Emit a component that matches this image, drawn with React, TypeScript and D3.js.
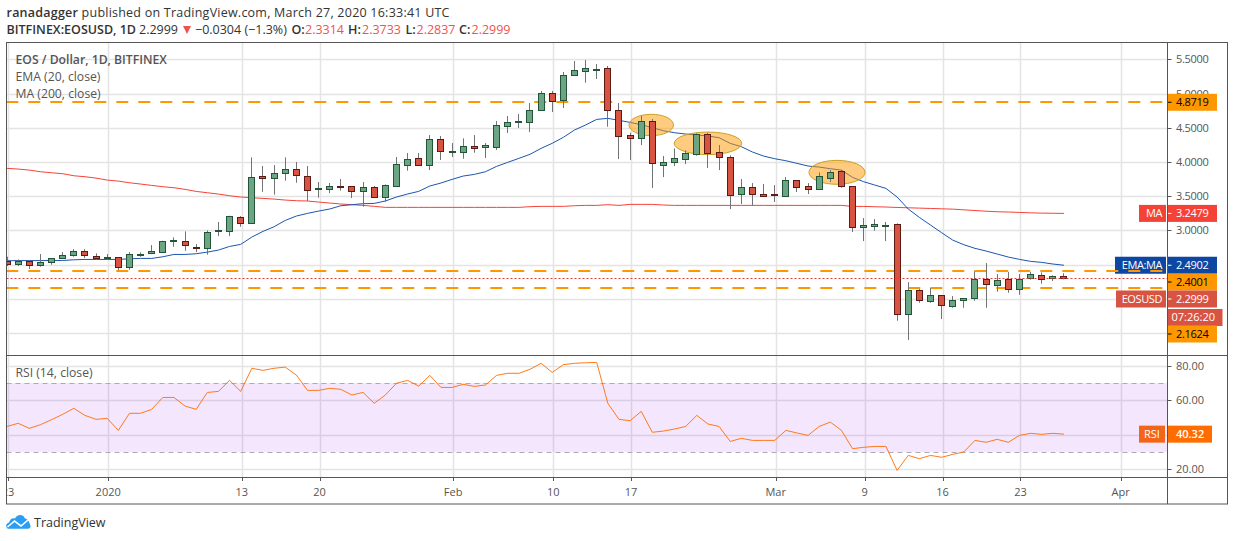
import * as d3 from "d3";

const opens = [2.551,2.512,2.551,2.488,2.531,2.590,2.634,2.692,2.629,2.590,2.605,2.458,2.644,2.663,2.678,2.853,2.848,2.760,2.736,2.985,2.985,3.199,3.102,3.789,3.759,3.833,3.891,3.789,3.609,3.609,3.648,3.643,3.570,3.628,3.492,3.643,3.960,4.052,3.960,4.330,4.150,4.150,4.228,4.223,4.223,4.530,4.588,4.588,4.754,5.003,4.910,5.266,5.334,5.344,5.368,4.754,4.388,4.354,4.593,3.959,4.003,4.047,4.111,4.403,4.140,4.067,3.535,3.628,3.526,3.531,3.506,3.730,3.643,3.609,3.769,3.862,3.643,3.053,3.068,3.068,3.087,1.772,2.123,1.972,2.050,1.898,1.976,2.006,2.283,2.196,2.283,2.137,2.298,2.342,2.298,2.3314];
const highs = [2.614,2.575,2.566,2.653,2.590,2.682,2.726,2.726,2.663,2.653,2.605,2.682,2.678,2.785,2.848,2.897,2.985,2.799,2.999,3.121,3.214,3.209,4.066,3.940,3.954,4.066,3.998,3.940,3.706,3.692,3.750,3.643,3.706,3.648,3.672,4.072,4.130,4.130,4.393,4.379,4.276,4.345,4.393,4.276,4.598,4.671,4.700,4.861,5.037,5.037,5.314,5.475,5.490,5.431,5.402,4.861,4.427,4.676,4.627,4.086,4.198,4.169,4.418,4.427,4.247,4.096,3.750,3.691,3.677,3.662,3.779,3.730,3.691,3.847,3.881,3.881,3.643,3.180,3.165,3.122,3.102,2.244,2.142,2.157,2.050,2.040,2.006,2.400,2.522,2.361,2.391,2.361,2.391,2.386,2.342,2.3733];
const lows = [2.478,2.478,2.434,2.468,2.497,2.580,2.614,2.595,2.566,2.575,2.419,2.424,2.614,2.653,2.678,2.760,2.702,2.682,2.644,2.916,2.916,3.053,3.102,3.564,3.521,3.725,3.696,3.429,3.477,3.545,3.580,3.472,3.346,3.492,3.419,3.643,3.872,3.940,3.882,4.028,4.072,4.047,4.135,4.057,4.174,4.423,4.496,4.437,4.754,4.730,4.788,5.266,5.158,5.212,4.515,4.042,4.028,4.247,3.618,3.779,3.940,3.969,4.091,3.911,3.881,3.311,3.384,3.360,3.506,3.414,3.492,3.560,3.531,3.594,3.706,3.623,2.975,2.844,2.995,2.844,1.679,1.397,1.942,1.942,1.704,1.869,1.869,1.972,1.869,2.103,2.088,2.059,2.279,2.220,2.259,2.2837];
const closes = [2.512,2.551,2.488,2.531,2.590,2.634,2.692,2.634,2.590,2.605,2.458,2.648,2.648,2.692,2.848,2.858,2.780,2.736,2.970,2.999,3.214,3.102,3.784,3.759,3.833,3.891,3.803,3.594,3.619,3.648,3.638,3.570,3.628,3.492,3.658,3.965,4.038,3.960,4.330,4.164,4.159,4.228,4.208,4.242,4.535,4.579,4.598,4.754,5.003,4.895,5.266,5.339,5.368,5.353,4.754,4.383,4.354,4.593,3.979,3.994,4.052,4.125,4.403,4.135,4.076,3.521,3.628,3.535,3.506,3.521,3.730,3.638,3.609,3.789,3.847,3.652,3.043,3.073,3.087,3.078,1.781,2.123,1.976,2.050,1.903,1.976,2.006,2.283,2.210,2.269,2.137,2.293,2.357,2.293,2.327,2.2999];

const ema20 = [2.556,2.558,2.558,2.558,2.560,2.560,2.570,2.575,2.575,2.575,2.575,2.585,2.590,2.590,2.614,2.648,2.648,2.658,2.682,2.712,2.765,2.795,2.902,2.985,3.053,3.145,3.209,3.248,3.282,3.312,3.360,3.375,3.390,3.394,3.429,3.487,3.531,3.570,3.648,3.692,3.745,3.794,3.818,3.857,3.935,3.994,4.052,4.111,4.198,4.272,4.359,4.466,4.540,4.622,4.637,4.608,4.578,4.544,4.500,4.456,4.427,4.408,4.393,4.379,4.354,4.271,4.223,4.145,4.086,4.047,4.018,3.979,3.940,3.925,3.901,3.881,3.774,3.711,3.662,3.613,3.487,3.312,3.190,3.078,2.966,2.858,2.790,2.737,2.698,2.654,2.610,2.576,2.547,2.532,2.508,2.4902];
const ma200 = [3.906,3.896,3.881,3.857,3.842,3.828,3.798,3.784,3.764,3.735,3.720,3.696,3.677,3.657,3.638,3.623,3.599,3.569,3.550,3.530,3.506,3.487,3.477,3.467,3.457,3.443,3.433,3.429,3.414,3.399,3.385,3.375,3.365,3.351,3.336,3.336,3.336,3.336,3.336,3.336,3.336,3.336,3.336,3.336,3.336,3.336,3.336,3.346,3.351,3.351,3.351,3.360,3.365,3.365,3.375,3.365,3.380,3.380,3.380,3.370,3.365,3.365,3.365,3.365,3.365,3.365,3.365,3.365,3.365,3.365,3.365,3.365,3.365,3.365,3.365,3.365,3.350,3.350,3.345,3.341,3.335,3.330,3.325,3.320,3.315,3.310,3.300,3.290,3.280,3.272,3.268,3.262,3.256,3.252,3.250,3.2479];
const rsi14 = [44.8,46.6,43.7,45.8,48.7,51.8,55.3,51.2,48.9,49.5,42.5,52.4,52.4,54.7,61.6,61.6,56.6,54.7,64.5,65.1,71.5,65.1,78.5,77.3,78.5,79.2,74.6,65.7,65.7,66.9,66.3,63,64.5,58.2,63,69.8,71.5,68.2,74.4,67.4,67.4,69.2,68,68.8,74.4,75.6,75.6,77.9,81.4,76.1,80.6,81.4,81.7,81.9,58.2,48.9,48.1,53.5,41.4,42.1,43.3,44.8,51.2,46.2,44.8,36.1,37.9,36.7,36.7,36.7,42.5,41,39.6,44.8,47.3,42.5,31.9,32.7,33.2,33.2,19.3,28,26.1,28,26.9,28.6,30,36.7,35.6,37.3,35.6,39.6,40.8,40.2,40.8,40.32];

const hLevels = [4.8719, 2.4001, 2.1624];
const lastClose = 2.2999;
const lastEma = 2.4902;
const lastMa = 3.2479;
const lastRsi = 40.32;

const priceTicks = [5.5, 5, 4.5, 4, 3.5, 3, 2.5, 2, 1.5];
const rsiTicks = [80, 60, 40, 20];
const timeTicks = [
  { d: "2019-12-23", t: "23" },
  { d: "2020-01-01", t: "2020" },
  { d: "2020-01-13", t: "13" },
  { d: "2020-01-20", t: "20" },
  { d: "2020-02-01", t: "Feb" },
  { d: "2020-02-10", t: "10" },
  { d: "2020-02-17", t: "17" },
  { d: "2020-03-01", t: "Mar" },
  { d: "2020-03-09", t: "9" },
  { d: "2020-03-16", t: "16" },
  { d: "2020-03-23", t: "23" },
  { d: "2020-04-01", t: "Apr" },
];
// highlighted retests, [bar index, price, half width in bars, half height in price]
const noteBars = [57.9, 63, 74.6];
const notePrices = [4.54, 4.272, 3.848];
const noteW = [2, 3.03, 2.52];
const noteH = [0.156, 0.165, 0.175];

const FONT = "'Open Sans', sans-serif";
const W = 1234;
const H = 541;
const DAY = 864e5;
const first = Date.UTC(2019, 11, 23);

const L = 6.5, R = 1167.5, RR = 1227.5, T = 43, PB = 355, RB = 477, B = 504;

const xTime = d3
  .scaleUtc()
  .domain([new Date(Date.UTC(2020, 0, 1)), new Date(Date.UTC(2020, 3, 1))])
  .range([108.2, 1120.6]);
const xBar = (i: number) => xTime(new Date(first + i * DAY)) - 1;
const y = d3.scaleLinear().domain([5.5, 1.5]).range([59.3, 333]);
const yRsi = d3.scaleLinear().domain([80, 20]).range([365.7, 469.2]);

const lineOf = (vals: number[], scale: (v: number) => number) =>
  d3
    .line<number>()
    .x((_, i) => xBar(i))
    .y((d) => scale(d))(vals) as string;

const snap = (v: number) => Math.round(v) + 0.5;
const n4 = d3.format(".4f");

const Tag = ({ x, yc, w, text, fill }: any) => (
  <g>
    <rect x={x} y={yc - 8.5} width={w} height={17} fill={fill} />
    <text x={1162} y={yc + 4} textAnchor="end" fontSize={11} letterSpacing={-0.4} fill="#fff">
      {text}
    </text>
  </g>
);

const PriceTag = ({ yc, text, fill, color = "#fff" }: any) => (
  <g>
    <rect x={R - 0.5} y={yc - 8.5} width={50} height={17} fill={fill} />
    <line x1={R} x2={R + 4} y1={yc} y2={yc} stroke={color} />
    <text x={1176} y={yc + 4} fontSize={11} letterSpacing={-0.3} fill={color}>
      {text}
    </text>
  </g>
);

export default function App() {
  return (
    <svg
      width={W}
      height={H}
      viewBox={`0 0 ${W} ${H}`}
      style={{ position: "absolute", left: 0, top: 0, background: "#fff", fontFamily: FONT }}
    >
      <defs>
        <clipPath id="frame">
          <rect x={L} y={T} width={R - L} height={B - T} />
        </clipPath>
        <clipPath id="price">
          <rect x={L} y={T} width={R - L} height={PB - T} />
        </clipPath>
        <clipPath id="rsi">
          <rect x={L} y={PB} width={R - L} height={RB - PB} />
        </clipPath>
      </defs>

      {/* header */}
      <text x={6.5} y={17} fontSize={12.5} letterSpacing={0.23} fill="#333">
        <tspan fontWeight={600}>ranadagger</tspan> published on TradingView.com, March 27, 2020 16:33:41 UTC
      </text>
      <g fontSize={12.5} fill="#333">
        <text x={6.5} y={34} fontWeight={600}>BITFINEX:EOSUSD, 1D</text>
        <text x={139} y={34}>2.2999</text>
        <path d="M183,26h8l-4,8z" fill="#ef5350" />
        <text x={195} y={34}>−0.0304 (−1.3%)</text>
        <text x={291.5} y={34} fontWeight={600}>O:</text>
        <text x={305} y={34} fill="#ef5350">2.3314</text>
        <text x={348} y={34} fontWeight={600}>H:</text>
        <text x={362} y={34} fill="#ef5350">2.3733</text>
        <text x={405.5} y={34} fontWeight={600}>L:</text>
        <text x={416.5} y={34} fill="#ef5350">2.2837</text>
        <text x={459} y={34} fontWeight={600}>C:</text>
        <text x={471.5} y={34} fill="#ef5350">2.2999</text>
      </g>

      {/* grid */}
      <g stroke="#e4e4e4" strokeWidth={1.5}>
        {timeTicks.map((t, i) => (
          <line key={i} x1={snap(xTime(new Date(t.d)))} x2={snap(xTime(new Date(t.d)))} y1={T} y2={RB} />
        ))}
        {priceTicks.map((p) => (
          <line key={p} x1={L} x2={R} y1={snap(y(p))} y2={snap(y(p))} />
        ))}
        {rsiTicks.map((p) => (
          <line key={p} x1={L} x2={R} y1={snap(yRsi(p))} y2={snap(yRsi(p))} />
        ))}
      </g>

      {/* rsi pane */}
      <rect x={L} y={yRsi(70)} width={R - L} height={yRsi(30) - yRsi(70)} fill="#910feb" fillOpacity={0.1} />
      {[70, 30].map((v) => (
        <line key={v} x1={L} x2={R} y1={snap(yRsi(v))} y2={snap(yRsi(v))} stroke="#b0a8b8" strokeDasharray="5 4" />
      ))}
      <path d={lineOf(rsi14, yRsi)} fill="none" stroke="#ff6d00" strokeWidth={1} clipPath="url(#rsi)" opacity={0.9} />

      {/* price overlays */}
      <g clipPath="url(#price)" fill="none">
        <path d={lineOf(ma200, y)} stroke="#f44336" strokeWidth={1} />
        <path d={lineOf(ema20, y)} stroke="#1c55b0" strokeWidth={1} />
      </g>

      {/* left side tags */}
      <Tag x={1139} yc={y(lastMa)} w={27} text="MA" fill="#f44336" />
      <Tag x={1115} yc={y(lastEma)} w={51} text="EMA:MA" fill="#0d47a1" />
      <Tag x={1116} yc={299} w={50} text="EOSUSD" fill="#d75442" />

      {/* levels */}
      <g clipPath="url(#price)">
        {hLevels.map((p) => (
          <line key={p} x1={6.3} x2={R} y1={Math.round(y(p))} y2={Math.round(y(p))} stroke="#ff9800" strokeWidth={2} strokeDasharray="12 10" />
        ))}
      </g>

      {/* highlighted zones */}
      <g clipPath="url(#price)">
        {noteBars.map((b, i) => (
          <ellipse
            key={i}
            cx={xBar(b)}
            cy={y(notePrices[i])}
            rx={xBar(b + noteW[i]) - xBar(b)}
            ry={y(notePrices[i] - noteH[i]) - y(notePrices[i])}
            fill="#ff9800"
            fillOpacity={0.5}
            stroke="#c9a227"
            strokeWidth={1}
          />
        ))}
      </g>

      {/* candles */}
      <g clipPath="url(#price)">
        {closes.map((c, i) => {
          const up = c >= opens[i];
          const cx = Math.floor(xBar(i)) + 0.5;
          const top = snap(y(Math.max(c, opens[i])));
          const bot = snap(y(Math.min(c, opens[i])));
          return (
            <g key={i}>
              <line x1={cx} x2={cx} y1={y(highs[i])} y2={y(lows[i])} stroke="#737375" />
              <rect
                x={cx - 3}
                y={top}
                width={6}
                height={Math.max(bot - top, 1)}
                fill={up ? "#6ba583" : "#d75442"}
                stroke={up ? "#225437" : "#5b1a13"}
              />
            </g>
          );
        })}
      </g>

      <line x1={L} x2={R} y1={snap(y(lastClose))} y2={snap(y(lastClose))} stroke="#e53935" strokeDasharray="2 2" />

      {/* legends */}
      <g fontSize={12.2} fill="#555">
        <text x={15.5} y={64} fontWeight={600}>EOS / Dollar, 1D, BITFINEX</text>
        <text x={15.5} y={81}>EMA (20, close)</text>
        <text x={15.5} y={98}>MA (200, close)</text>
        <text x={15.5} y={377}>RSI (14, close)</text>
      </g>

      {/* axes */}
      <g fill="#555" fontSize={11}>
        {priceTicks.map((p) => (
          <g key={p}>
            <line x1={R} x2={R + 4} y1={snap(y(p))} y2={snap(y(p))} stroke="#555" />
            <text x={1176} y={y(p) + 4} letterSpacing={-0.3}>{n4(p)}</text>
          </g>
        ))}
        {rsiTicks.map((p) => (
          <g key={p}>
            <line x1={R} x2={R + 4} y1={snap(yRsi(p))} y2={snap(yRsi(p))} stroke="#555" />
            <text x={1176} y={yRsi(p) + 4}>{p.toFixed(2)}</text>
          </g>
        ))}
      </g>
      <g fill="#555" fontSize={11} textAnchor="middle" clipPath="url(#frame)">
        {timeTicks.map((t, i) => (
          <g key={i}>
            <line x1={snap(xTime(new Date(t.d)))} x2={snap(xTime(new Date(t.d)))} y1={RB} y2={RB + 4} stroke="#555" />
            <text x={xTime(new Date(t.d))} y={496}>{t.t}</text>
          </g>
        ))}
      </g>

      {/* price tags */}
      <PriceTag yc={y(hLevels[0])} text={n4(hLevels[0])} fill="#ff9800" color="#000" />
      <PriceTag yc={y(lastMa)} text={n4(lastMa)} fill="#f44336" />
      <PriceTag yc={y(lastEma)} text={n4(lastEma)} fill="#0d47a1" />
      <PriceTag yc={282} text={n4(hLevels[1])} fill="#ff9800" color="#000" />
      <PriceTag yc={299} text={n4(lastClose)} fill="#d75442" />
      <rect x={R - 0.5} y={309} width={55.5} height={17} fill="#d75442" />
      <text x={1171.5} y={321} fontSize={11} fill="#fff">07:26:20</text>
      <PriceTag yc={334} text={n4(hLevels[2])} fill="#ff9800" color="#000" />
      <rect x={1139} y={yRsi(lastRsi) - 8.5} width={26} height={17} fill="#f4651a" />
      <text x={1152} y={yRsi(lastRsi) + 4} textAnchor="middle" fontSize={11} fill="#fff">RSI</text>
      <rect x={R - 0.5} y={yRsi(lastRsi) - 8.5} width={45} height={17} fill="#ff6d00" />
      <text x={1176} y={yRsi(lastRsi) + 4} fontSize={11} fontWeight={600} fill="#fff">{lastRsi.toFixed(2)}</text>

      {/* frame */}
      <g stroke="#555" fill="none">
        <rect x={L} y={T - 0.5} width={RR - L} height={B - T + 0.5} />
        <line x1={R} x2={R} y1={T} y2={B} />
        <line x1={L} x2={RR} y1={PB + 0.5} y2={PB + 0.5} />
        <line x1={L} x2={RR} y1={RB + 0.5} y2={RB + 0.5} />
      </g>

      {/* logo */}
      <path
        d="M8,528.7 C5.5,527.5 5.5,523.5 9,522.5 C10.5,518 13,518 15,518.5 C17,514 23,513.5 25,518.5 C28,519 30,523 30.5,526 C30.5,528 29.5,528.7 28,528.7 Z"
        fill="#2a9df4"
      />
      <path d="M7.5,527 L14.5,521 L21,526 L28,520" fill="none" stroke="#fff" strokeWidth={1.6} />
      <text x={34} y={527} fontSize={12.5} fill="#333">TradingView</text>
    </svg>
  );
}
